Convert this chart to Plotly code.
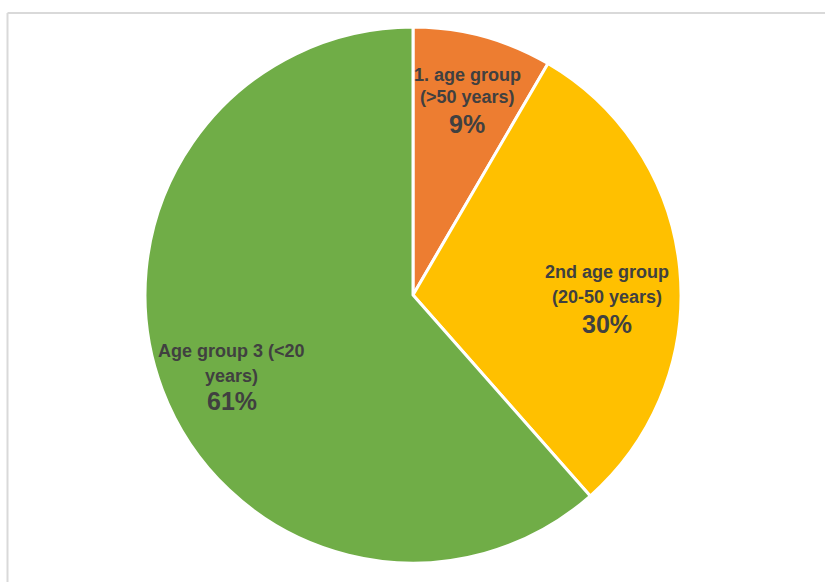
import plotly.graph_objects as go

names = ["1. age group (>50 years)", "2nd age group (20-50 years)", "Age group 3 (<20 years)"]
# slice sizes as measured from the slice angles; shown labels as printed
values = [8.4, 30.1, 61.5]
pct_labels = ["9%", "30%", "61%"]
label_lines = [["1. age group", "(>50 years)"],
               ["2nd age group", "(20-50 years)"],
               ["Age group 3 (<20", "years)"]]
colors = ["#ED7D31", "#FFC000", "#70AD47"]

W, H = 825, 582
cx, cy, r = 413, 295, 268

fig = go.Figure(go.Pie(
    labels=names, values=values, sort=False, direction="clockwise", rotation=0,
    marker=dict(colors=colors, line=dict(color="white", width=3)),
    textinfo="none", hoverinfo="label+percent", showlegend=False,
    domain=dict(x=[(cx - r) / W, (cx + r) / W], y=[1 - (cy + r) / H, 1 - (cy - r) / H]),
))

# label block positions (pixels): x centre, y centres of the three lines
pos = [(467, [74.5, 97, 124]), (607, [271.5, 296.5, 324]), (232, [350.5, 375.5, 401])]
FONT = "Liberation Sans, Arial"
for lines, pct, (px, ys) in zip(label_lines, pct_labels, pos):
    texts = lines + [pct]
    sizes = [18, 18, 25]
    for t, s, py in zip(texts, sizes, ys):
        fig.add_annotation(
            x=px / W, y=1 - py / H, xref="paper", yref="paper", showarrow=False,
            text=f"<b>{t}</b>", font=dict(family=FONT, size=s, color="#404040"),
            xanchor="center", yanchor="middle",
        )

# outer frame lines
fig.add_shape(type="line", xref="paper", yref="paper", x0=7.5 / W, x1=1.01, y0=1 - 13 / H, y1=1 - 13 / H,
              line=dict(color="#D9D9D9", width=2))
fig.add_shape(type="line", xref="paper", yref="paper", x0=7.5 / W, x1=7.5 / W, y0=1 - 13 / H, y1=-0.01,
              line=dict(color="#D9D9D9", width=2))

fig.update_layout(width=W, height=H, margin=dict(l=0, r=0, t=0, b=0),
                  paper_bgcolor="white", plot_bgcolor="white")
fig.write_html("out.html")
